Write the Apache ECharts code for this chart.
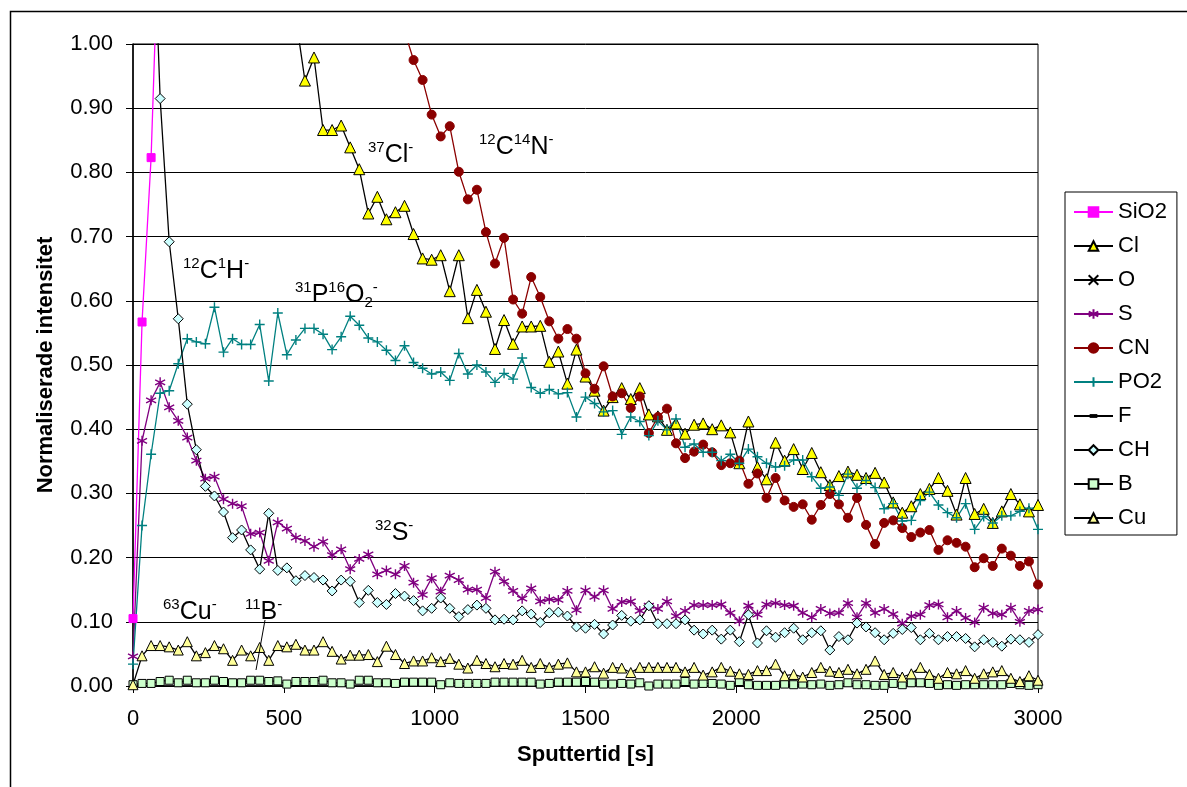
<!DOCTYPE html>
<html>
<head>
<meta charset="utf-8">
<script src="https://cdn.jsdelivr.net/npm/echarts@6/dist/echarts.min.js"></script>
<style>
  html, body { margin: 0; padding: 0; background: #fff; }
  #main { width: 1187px; height: 787px; }
</style>
</head>
<body>
<div id="main"></div>
<script>
// sputter time (s), one measurement every 30 s
const sputterTimes = [0, 30, 60, 90, 120, 150, 180, 210, 240, 270, 300, 330, 360, 390, 420, 450, 480, 510, 540, 570,
  600, 630, 660, 690, 720, 750, 780, 810, 840, 870, 900, 930, 960, 990, 1020, 1050, 1080, 1110, 1140, 1170,
  1200, 1230, 1260, 1290, 1320, 1350, 1380, 1410, 1440, 1470, 1500, 1530, 1560, 1590, 1620, 1650, 1680, 1710, 1740, 1770,
  1800, 1830, 1860, 1890, 1920, 1950, 1980, 2010, 2040, 2070, 2100, 2130, 2160, 2190, 2220, 2250, 2280, 2310, 2340, 2370,
  2400, 2430, 2460, 2490, 2520, 2550, 2580, 2610, 2640, 2670, 2700, 2730, 2760, 2790, 2820, 2850, 2880, 2910, 2940, 2970, 3000]

const xTicks = [0, 500, 1000, 1500, 2000, 2500, 3000]

// normalised intensities (null = not shown / above the plotted range)
const sio2 = [0.105, 0.567, 0.823, 1.25]
const cl = [null, null, null, null, null, null, null, null, null, null, null, null, null, null, null, null, null, null, 1.04, 0.943,
  0.979, 0.866, 0.866, 0.873, 0.839, 0.805, 0.736, 0.762, 0.727, 0.738, 0.748, 0.704, 0.666, 0.664, 0.671, 0.615, 0.671, 0.573, 0.617, 0.583,
  0.525, 0.570, 0.533, 0.560, 0.560, 0.561, 0.505, 0.521, 0.471, 0.524, 0.482, 0.460, 0.429, 0.450, 0.464, 0.447, 0.464, 0.423, 0.420, 0.399,
  0.409, 0.393, 0.407, 0.409, 0.400, 0.406, 0.395, 0.347, 0.412, 0.341, 0.322, 0.379, 0.351, 0.369, 0.338, 0.363, 0.333, 0.313, 0.327, 0.334,
  0.329, 0.324, 0.332, 0.317, 0.286, 0.270, 0.280, 0.299, 0.307, 0.324, 0.304, 0.267, 0.324, 0.268, 0.276, 0.254, 0.272, 0.299, 0.283, 0.272, 0.282]
const oxygen = []
const sulfur = [0.046, 0.382, 0.445, 0.473, 0.434, 0.413, 0.387, 0.351, 0.323, 0.326, 0.291, 0.284, 0.280, 0.237, 0.239, 0.195, 0.255, 0.245, 0.231, 0.226,
  0.217, 0.225, 0.204, 0.213, 0.182, 0.198, 0.205, 0.174, 0.180, 0.174, 0.187, 0.161, 0.142, 0.168, 0.147, 0.172, 0.165, 0.150, 0.150, 0.137,
  0.178, 0.163, 0.148, 0.136, 0.152, 0.132, 0.135, 0.134, 0.148, 0.118, 0.149, 0.139, 0.149, 0.120, 0.131, 0.132, 0.117, 0.125, 0.120, 0.132,
  0.109, 0.117, 0.126, 0.126, 0.126, 0.127, 0.114, 0.101, 0.125, 0.111, 0.127, 0.129, 0.126, 0.125, 0.114, 0.107, 0.120, 0.113, 0.114, 0.129,
  0.107, 0.129, 0.114, 0.120, 0.112, 0.097, 0.109, 0.111, 0.126, 0.127, 0.107, 0.117, 0.106, 0.099, 0.122, 0.113, 0.111, 0.122, 0.100, 0.117, 0.119]
const cn = [null, null, null, null, null, null, null, null, null, null, null, null, null, null, null, null, null, null, null, null,
  null, null, null, null, null, null, null, null, null, null, 1.02, 0.975, 0.944, 0.890, 0.856, 0.872, 0.801, 0.758, 0.773, 0.707,
  0.658, 0.698, 0.602, 0.580, 0.637, 0.606, 0.568, 0.541, 0.556, 0.541, 0.487, 0.463, 0.498, 0.451, 0.456, 0.433, 0.451, 0.394, 0.419, 0.432,
  0.378, 0.355, 0.365, 0.376, 0.364, 0.344, 0.347, 0.351, 0.315, 0.331, 0.293, 0.324, 0.289, 0.279, 0.283, 0.259, 0.282, 0.299, 0.283, 0.262,
  0.293, 0.251, 0.221, 0.254, 0.258, 0.246, 0.232, 0.239, 0.243, 0.212, 0.227, 0.223, 0.217, 0.185, 0.199, 0.187, 0.214, 0.203, 0.187, 0.194, 0.158]
const po2 = [0.034, 0.250, 0.361, 0.456, 0.460, 0.502, 0.541, 0.536, 0.533, 0.590, 0.520, 0.541, 0.532, 0.532, 0.563, 0.475, 0.581, 0.516, 0.539, 0.557,
  0.557, 0.548, 0.524, 0.544, 0.576, 0.562, 0.542, 0.536, 0.523, 0.507, 0.530, 0.504, 0.495, 0.486, 0.489, 0.476, 0.518, 0.486, 0.500, 0.489,
  0.473, 0.487, 0.478, 0.511, 0.465, 0.456, 0.462, 0.455, 0.457, 0.419, 0.450, 0.440, 0.427, 0.429, 0.392, 0.419, 0.412, 0.390, 0.413, 0.399,
  0.416, 0.372, 0.377, 0.364, 0.364, 0.351, 0.361, 0.347, 0.369, 0.357, 0.347, 0.341, 0.343, 0.352, 0.352, 0.326, 0.308, 0.310, 0.297, 0.330,
  0.308, 0.320, 0.309, 0.276, 0.284, 0.257, 0.258, 0.289, 0.302, 0.282, 0.270, 0.262, 0.284, 0.244, 0.264, 0.254, 0.265, 0.265, 0.272, 0.277, 0.244]
const fluorine = []
const ch = [null, null, 1.30, 0.915, 0.692, 0.572, 0.439, 0.368, 0.311, 0.296, 0.271, 0.231, 0.243, 0.212, 0.182, 0.269, 0.180, 0.184, 0.164, 0.172,
  0.169, 0.165, 0.148, 0.165, 0.163, 0.130, 0.149, 0.130, 0.127, 0.144, 0.140, 0.133, 0.117, 0.121, 0.137, 0.121, 0.108, 0.119, 0.126, 0.121,
  0.103, 0.104, 0.103, 0.117, 0.112, 0.099, 0.114, 0.115, 0.109, 0.092, 0.090, 0.096, 0.081, 0.095, 0.110, 0.101, 0.103, 0.125, 0.097, 0.097,
  0.097, 0.103, 0.087, 0.081, 0.087, 0.073, 0.087, 0.069, 0.111, 0.067, 0.086, 0.076, 0.083, 0.090, 0.072, 0.083, 0.086, 0.056, 0.077, 0.072,
  0.098, 0.092, 0.083, 0.072, 0.082, 0.088, 0.091, 0.072, 0.082, 0.072, 0.077, 0.077, 0.074, 0.061, 0.072, 0.068, 0.062, 0.073, 0.072, 0.068, 0.080]
const boron = [0.002, 0.004, 0.004, 0.007, 0.009, 0.005, 0.009, 0.005, 0.005, 0.009, 0.007, 0.005, 0.005, 0.009, 0.009, 0.007, 0.008, 0.003, 0.007, 0.007,
  0.007, 0.009, 0.005, 0.005, 0.003, 0.009, 0.009, 0.005, 0.005, 0.004, 0.006, 0.006, 0.006, 0.006, 0.002, 0.005, 0.004, 0.004, 0.004, 0.004,
  0.006, 0.006, 0.006, 0.006, 0.006, 0.003, 0.004, 0.006, 0.006, 0.006, 0.007, 0.006, 0.003, 0.003, 0.004, 0.003, 0.005, 0.000, 0.003, 0.003,
  0.003, 0.007, 0.003, 0.004, 0.004, 0.003, 0.001, 0.007, 0.002, 0.001, 0.001, 0.001, 0.003, 0.002, 0.003, 0.002, 0.003, 0.001, 0.002, 0.005,
  0.002, 0.002, 0.001, 0.001, 0.004, 0.002, 0.005, 0.005, 0.004, 0.001, 0.002, 0.001, 0.002, 0.002, 0.002, 0.002, 0.002, 0.004, 0.002, 0.001, 0.002]
const copper = [0.002, 0.047, 0.063, 0.063, 0.061, 0.056, 0.069, 0.047, 0.052, 0.063, 0.058, 0.040, 0.056, 0.047, 0.060, 0.040, 0.063, 0.061, 0.065, 0.056,
  0.056, 0.069, 0.054, 0.042, 0.048, 0.048, 0.049, 0.038, 0.062, 0.049, 0.035, 0.039, 0.039, 0.044, 0.038, 0.043, 0.034, 0.028, 0.040, 0.035,
  0.030, 0.035, 0.034, 0.040, 0.029, 0.035, 0.029, 0.034, 0.036, 0.022, 0.022, 0.030, 0.020, 0.029, 0.028, 0.021, 0.029, 0.029, 0.029, 0.029,
  0.029, 0.022, 0.029, 0.017, 0.022, 0.029, 0.023, 0.019, 0.018, 0.024, 0.024, 0.034, 0.016, 0.018, 0.014, 0.021, 0.029, 0.023, 0.021, 0.026,
  0.019, 0.026, 0.039, 0.018, 0.021, 0.014, 0.019, 0.029, 0.018, 0.012, 0.021, 0.019, 0.024, 0.012, 0.019, 0.022, 0.024, 0.012, 0.007, 0.016, 0.009]

const FONT = '"Liberation Sans", Arial, sans-serif'

const pairs = (vals) => vals.map((v, i) => [sputterTimes[i], v])

// 1. series styles (Excel look)
const lineSeries = (name, vals, lineColor, symbol, size, fill, border, extra) => Object.assign({
  name: name,
  type: 'line',
  data: pairs(vals),
  symbol: symbol,
  symbolSize: size,
  lineStyle: { color: lineColor, width: 1.3 },
  itemStyle: { color: fill, borderColor: border, borderWidth: 1 },
  clip: true
}, extra || {})

const CROSS = 'path://M0,0 L10,10 M10,0 L0,10'
const PLUS = 'path://M5,0 L5,10 M0,5 L10,5'
const STAR = 'path://M5,0 L5,10 M0,2.5 L10,7.5 M0,7.5 L10,2.5'
// short thick dash, padded with move-tos so it keeps a square box
const DASH = 'path://M0,0 M10,10 M1,3 L9,3 L9,7 L1,7 Z'

const series = [
  lineSeries('SiO2', sio2, '#ff00ff', 'rect', 8, '#ff00ff', '#ff00ff'),
  lineSeries('Cl', cl, '#000', 'triangle', 11, '#ffff00', '#000'),
  lineSeries('O', oxygen, '#000', CROSS, 8, 'none', '#000', { itemStyle: { color: '#000', borderColor: '#000', borderWidth: 1.3 } }),
  lineSeries('S', sulfur, '#800080', STAR, 10, 'none', '#800080', { itemStyle: { color: '#800080', borderColor: '#800080', borderWidth: 1.4 } }),
  lineSeries('CN', cn, '#8b0000', 'circle', 9, '#8b0000', '#8b0000'),
  lineSeries('PO2', po2, '#008080', PLUS, 10, 'none', '#008080', { itemStyle: { color: '#008080', borderColor: '#008080', borderWidth: 1.4 } }),
  lineSeries('F', fluorine, '#000', DASH, 9, '#000', '#000', { itemStyle: { color: '#000', borderColor: '#000', borderWidth: 0 } }),
  lineSeries('CH', ch, '#000', 'diamond', 10, '#ccffff', '#000'),
  lineSeries('B', boron, '#000', 'rect', 8, '#ccffcc', '#000'),
  lineSeries('Cu', copper, '#000', 'triangle', 10, '#ffff99', '#000')
]

// 2. ion labels with superscripts
const rich = {
  m: { fontSize: 25, lineHeight: 30, fontFamily: FONT, fill: '#000' },
  sup: { fontSize: 15, lineHeight: 15, verticalAlign: 'top', fontFamily: FONT, fill: '#000' },
  sub: { fontSize: 15, lineHeight: 15, verticalAlign: 'bottom', fontFamily: FONT, fill: '#000' }
}
const ionLabel = (x, y, text) => ({
  type: 'text', x: x, y: y, z: 50,
  style: { text: text, rich: rich, align: 'left', verticalAlign: 'top' }
})

const option = {
  animation: false,
  backgroundColor: '#fff',
  textStyle: { fontFamily: FONT },
  grid: {
    left: 133, right: 149, top: 44, bottom: 101,
    show: true, borderColor: '#000', borderWidth: 1
  },
  legend: {
    orient: 'vertical',
    left: 1065, top: 192,
    padding: [9, 10, 6, 8],
    itemWidth: 39, itemHeight: 12, itemGap: 12,
    borderColor: '#000', borderWidth: 1,
    textStyle: { fontSize: 22, color: '#000', fontFamily: FONT },
    data: ['SiO2', 'Cl', 'O', 'S', 'CN', 'PO2', 'F', 'CH', 'B', 'Cu']
  },
  xAxis: {
    type: 'value',
    min: xTicks[0], max: xTicks[xTicks.length - 1], interval: 500,
    name: 'Sputtertid [s]',
    nameLocation: 'middle', nameGap: 58,
    nameTextStyle: { fontSize: 22, fontWeight: 'bold', color: '#000', fontFamily: FONT },
    axisLine: { lineStyle: { color: '#000', width: 1.5 } },
    axisTick: { show: true, length: 7, lineStyle: { color: '#000' } },
    axisLabel: { fontSize: 22, color: '#000', margin: 22, fontFamily: FONT, formatter: (v) => String(v) },
    splitLine: { show: false }
  },
  yAxis: {
    type: 'value',
    min: 0, max: 1, interval: 0.1,
    name: 'Normaliserade intensitet',
    nameLocation: 'middle', nameGap: 76,
    nameTextStyle: { fontSize: 22, fontWeight: 'bold', color: '#000', fontFamily: FONT },
    axisLine: { show: true, lineStyle: { color: '#000', width: 1.5 } },
    axisTick: { show: true, length: 7, lineStyle: { color: '#000' } },
    axisLabel: { fontSize: 22, color: '#000', margin: 20, fontFamily: FONT, formatter: (v) => v.toFixed(2) },
    splitLine: { show: true, lineStyle: { color: '#000', width: 1 } }
  },
  graphic: [
    { type: 'rect', shape: { x: 10.5, y: 11.5, width: 1300, height: 900 }, style: { fill: 'none', stroke: '#000', lineWidth: 1.5 }, silent: true },
    ionLabel(368, 140, '{sup|37}{m|Cl}{sup|-}'),
    ionLabel(479, 132, '{sup|12}{m|C}{sup|14}{m|N}{sup|-}'),
    ionLabel(183, 256, '{sup|12}{m|C}{sup|1}{m|H}{sup|-}'),
    ionLabel(295, 280, '{sup|31}{m|P}{sup|16}{m|O}{sub|2}{sup|-}'),
    ionLabel(375, 518, '{sup|32}{m|S}{sup|-}'),
    ionLabel(163, 597, '{sup|63}{m|Cu}{sup|-}'),
    ionLabel(245, 597, '{sup|11}{m|B}{sup|-}'),
    { type: 'line', shape: { x1: 265, y1: 620, x2: 256, y2: 670 }, style: { stroke: '#000', lineWidth: 1 }, z: 50 }
  ],
  series: series
}

const myChart = echarts.init(document.getElementById('main'))
myChart.setOption(option)
</script>
</body>
</html>
